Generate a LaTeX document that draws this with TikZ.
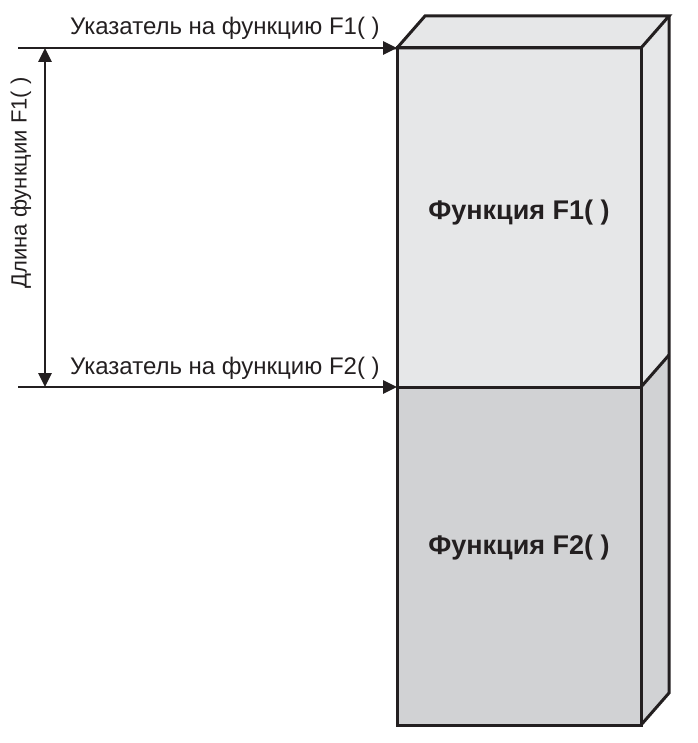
\documentclass[tikz,border=0pt]{standalone}
\usepackage{fontspec}
\setmainfont{Liberation Sans}
\usetikzlibrary{arrows.meta}
\definecolor{ink}{HTML}{231F20}
\definecolor{lightbox}{HTML}{E6E7E8}
\definecolor{darkbox}{HTML}{D1D2D4}
\tikzset{
  edge/.style={draw=ink, line width=3pt, line join=miter},
  arr/.style={draw=ink, line width=2.8pt, -{Triangle[length=14pt,width=13pt]}},
  darr/.style={draw=ink, line width=2.8pt, {Triangle[length=14pt,width=13pt]}-{Triangle[length=14pt,width=13pt]}},
  lbl/.style={font=\fontsize{24}{28}\selectfont, text=ink, inner sep=0pt},
  vlbl/.style={font=\fontsize{22}{26}\selectfont, text=ink, inner sep=0pt},
  blbl/.style={font=\bfseries\fontsize{27}{32}\selectfont, text=ink, inner sep=0pt},
}
\begin{document}
\begin{tikzpicture}[x=1pt,y=-1pt]
\useasboundingbox (0,0) rectangle (697,743);
% coordinates
\coordinate (A) at (397,48);   % front top left
\coordinate (B) at (641,48);   % front top right
\coordinate (M) at (397,387);  % divider left
\coordinate (N) at (641,387);  % divider right
\coordinate (C) at (397,725);  % front bottom left
\coordinate (D) at (641,725);  % front bottom right
\coordinate (A2) at (425,16);
\coordinate (B2) at (669,16);
\coordinate (N2) at (669,355);
\coordinate (D2) at (669,693);
% fills
\fill[lightbox] (A) -- (A2) -- (B2) -- (B) -- cycle;
\fill[lightbox] (B) -- (B2) -- (N2) -- (N) -- cycle;
\fill[darkbox] (N) -- (N2) -- (D2) -- (D) -- cycle;
\fill[lightbox] (A) rectangle (N);
\fill[darkbox] (M) rectangle (D);
% edges
\draw[edge] (A) -- (A2) -- (B2) -- (B) -- cycle;
\draw[edge] (B2) -- (D2) -- (D);
\draw[edge] (N) -- (N2);
\draw[edge] (A) rectangle (D);
\draw[edge] (M) -- (N);
% pointer arrows
\coordinate (L1) at (18,48);
\coordinate (L2) at (18,387);
\draw[arr] (L1) -- (A);
\draw[arr] (L2) -- (M);
\coordinate (V1) at (45,48);
\coordinate (V2) at (45,387);
\draw[darr] (V1) -- (V2);
% labels
\node[lbl, anchor=base west] (t1) at (70,35) {Указатель на функцию F1(~)};
\node[lbl, anchor=base west] (t2) at (70,374) {Указатель на функцию F2(~)};
\node[vlbl, rotate=90] (t3) at (21,183) {Длина функции F1(~)};
\node[blbl] (f1) at (519,213) {Функция F1(~)};
\node[blbl] (f2) at (519,548) {Функция F2(~)};
\end{tikzpicture}
\end{document}
